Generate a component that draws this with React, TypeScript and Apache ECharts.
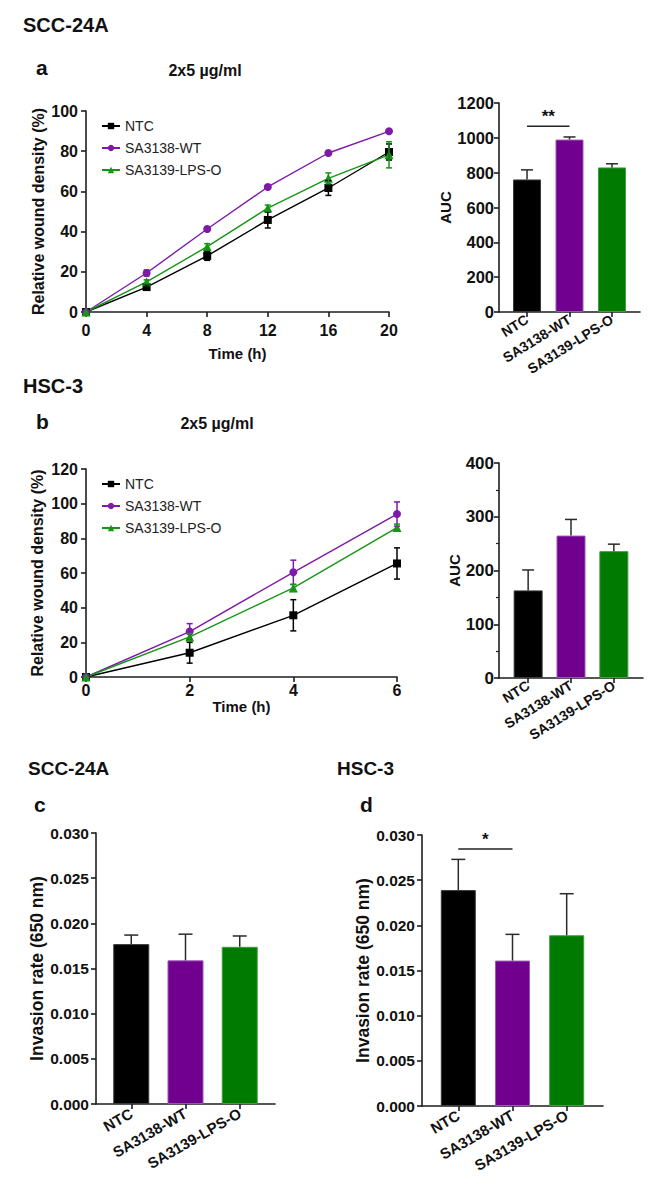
import React, { useEffect, useRef } from 'react';
import * as echarts from 'echarts';

// ---------- data ----------
const groups = ['NTC', 'SA3138-WT', 'SA3139-LPS-O'];
const barColors = ['#000000', '#72008f', '#007a00'];
const barBorders = ['#3a3a3a', '#9a55b8', '#3f9c3f'];
const lineColors = ['#000000', '#7d1aa8', '#159615'];
const symbols = ['rect', 'circle', 'triangle'];

// panel a (SCC-24A)
const timeA = [0, 4, 8, 12, 16, 20];
const ntcA = [0, 12.4, 27.9, 45.8, 61.7, 79.6];
const ntcAErr = [0, 1.2, 2.2, 4, 3.7, 4];
const wtA = [0, 19.4, 41.3, 62.2, 79.1, 89.9];
const wtAErr = [0, 1.5, 1, 0.8, 0.8, 0.8];
const lpsA = [0, 15, 32.5, 51.7, 66.5, 78.2];
const lpsAErr = [0, 1, 1.5, 1.5, 2.7, 6.5];
const aucA = [761, 990, 830];
const aucAErr = [55, 15, 21];
const sigA = [[0, 1, 1067]];
const sigALabel = ['**'];

// panel b (HSC-3)
const timeB = [0, 2, 4, 6];
const ntcB = [0, 14, 35.6, 65.5];
const ntcBErr = [0, 6, 9, 9];
const wtB = [0, 26.2, 60.4, 94];
const wtBErr = [0, 4.6, 7, 7];
const lpsB = [0, 23.1, 51.4, 86.2];
const lpsBErr = [0, 2, 2, 2];
const aucB = [163, 265, 236];
const aucBErr = [38, 30, 13];

// panels c, d (invasion)
const invC = [0.0177, 0.0159, 0.0174];
const invCErr = [0.001, 0.0029, 0.0012];
const invD = [0.0239, 0.0161, 0.0189];
const invDErr = [0.0034, 0.0029, 0.0046];
const sigD = [[0, 1, 0.02845]];
const sigDLabel = ['*'];

const catIdx = [0, 1, 2];

// ---------- styling helpers ----------
const FONT = 'Liberation Sans, Arial, sans-serif';
const AX = '#1e1e1e';
const TXT = '#111111';

const axisLine = { show: true, onZero: false, lineStyle: { color: AX, width: 1.6 } };

function errRender(cap: number, color: string, upperOnly: boolean) {
  return (params: any, api: any) => {
    const x = api.value(0);
    const y = api.value(1);
    const e = api.value(2);
    if (!e) return { type: 'group', children: [] };
    const top = api.coord([x, y + e]);
    const bot = upperOnly ? api.coord([x, y]) : api.coord([x, y - e]);
    const st = { stroke: color, lineWidth: 1.5 };
    const children: any[] = [
      { type: 'line', shape: { x1: top[0], y1: top[1], x2: bot[0], y2: bot[1] }, style: st },
      { type: 'line', shape: { x1: top[0] - cap / 2, y1: top[1], x2: top[0] + cap / 2, y2: top[1] }, style: st },
    ];
    if (!upperOnly) {
      children.push({ type: 'line', shape: { x1: bot[0] - cap / 2, y1: bot[1], x2: bot[0] + cap / 2, y2: bot[1] }, style: st });
    }
    return { type: 'group', children };
  };
}

function sigRender(labels: string[], fontSize: number) {
  return (params: any, api: any) => {
    const p1 = api.coord([api.value(0), api.value(2)]);
    const p2 = api.coord([api.value(1), api.value(2)]);
    return {
      type: 'group',
      children: [
        { type: 'line', shape: { x1: p1[0], y1: p1[1], x2: p2[0], y2: p2[1] }, style: { stroke: '#222', lineWidth: 1.5 } },
        {
          type: 'text',
          x: (p1[0] + p2[0]) / 2,
          y: p1[1] - 1,
          style: { text: labels[params.dataIndex], font: `bold ${fontSize}px ${FONT}`, fill: '#111', align: 'center', verticalAlign: 'bottom' },
        },
      ],
    };
  };
}

function lineSeries(idx: number, times: number[], vals: number[], errs: number[], name: string) {
  const color = lineColors[idx];
  return [
    {
      type: 'line',
      name,
      data: times.map((t, k) => [t, vals[k]]),
      symbol: symbols[idx],
      symbolSize: idx === 2 ? 9 : 8,
      lineStyle: { color, width: 1.4 },
      itemStyle: { color },
      z: 4,
    },
    {
      type: 'custom',
      renderItem: errRender(6, color, false),
      data: times.map((t, k) => [t, vals[k], errs[k]]),
      z: 5,
      silent: true,
    },
  ];
}

function withAxes(list: any[], xi: number, yi: number) {
  return list.map((s) => ({ ...s, xAxisIndex: xi, yAxisIndex: yi }));
}

function barSeries(vals: number[], errs: number[], width: number, cap: number) {
  return [
    {
      type: 'bar',
      name: 'bars',
      barWidth: width,
      data: vals.map((v, i) => ({
        value: [catIdx[i], v],
        itemStyle: { color: barColors[i], borderColor: barBorders[i], borderWidth: 1 },
      })),
      z: 2,
    },
    {
      type: 'custom',
      renderItem: errRender(cap, '#2a2a2a', true),
      data: vals.map((v, i) => [catIdx[i], v, errs[i]]),
      z: 3,
      silent: true,
    },
  ];
}

function catXAxis(grid: number, min: number, max: number, fontSize: number, rotate: number, margin: number) {
  return {
    gridIndex: grid,
    type: 'value',
    min,
    max,
    axisLine,
    axisTick: { show: true, customValues: catIdx, length: 5, lineStyle: { color: AX, width: 1.6 } },
    axisLabel: {
      customValues: catIdx,
      formatter: (v: number) => groups[Math.round(v)],
      rotate,
      fontSize,
      fontWeight: 'bold',
      fontFamily: FONT,
      color: TXT,
      margin,
    },
    splitLine: { show: false },
  };
}

function valYAxis(grid: number, min: number, max: number, interval: number, fontSize: number, margin: number, extra: any = {}) {
  return {
    gridIndex: grid,
    type: 'value',
    min,
    max,
    interval,
    axisLine,
    axisTick: { show: true, length: 5, lineStyle: { color: AX, width: 1.6 } },
    axisLabel: { fontSize, fontWeight: 'bold', fontFamily: FONT, color: TXT, margin, formatter: (v: number) => String(v) },
    splitLine: { show: false },
    ...extra,
  };
}

const titles = [
  { text: 'SCC-24A', x: 23, y: 25, size: 20, align: 'left' },
  { text: 'a', x: 36, y: 67, size: 21, align: 'left' },
  { text: '2x5 µg/ml', x: 205, y: 70, size: 16, align: 'center' },
  { text: 'HSC-3', x: 23, y: 386, size: 20, align: 'left' },
  { text: 'b', x: 36, y: 421, size: 21, align: 'left' },
  { text: '2x5 µg/ml', x: 217, y: 423, size: 16, align: 'center' },
  { text: 'SCC-24A', x: 28, y: 768, size: 19, align: 'left' },
  { text: 'HSC-3', x: 337, y: 768, size: 19, align: 'left' },
  { text: 'c', x: 34, y: 804, size: 21, align: 'left' },
  { text: 'd', x: 360, y: 804, size: 21, align: 'left' },
];

function buildOption() {
  const legendBase = {
    data: groups,
    orient: 'vertical',
    left: 96,
    itemGap: 8,
    itemWidth: 18,
    itemHeight: 8,
    selectedMode: false,
    textStyle: { fontSize: 14, color: '#222', fontFamily: FONT },
  };

  const series: any[] = [
    ...withAxes(lineSeries(0, timeA, ntcA, ntcAErr, groups[0]), 0, 0),
    ...withAxes(lineSeries(1, timeA, wtA, wtAErr, groups[1]), 0, 0),
    ...withAxes(lineSeries(2, timeA, lpsA, lpsAErr, groups[2]), 0, 0),
    ...withAxes(barSeries(aucA, aucAErr, 28, 12), 1, 1),
    { type: 'custom', xAxisIndex: 1, yAxisIndex: 1, renderItem: sigRender(sigALabel, 17), data: sigA, z: 6, silent: true },
    ...withAxes(lineSeries(0, timeB, ntcB, ntcBErr, groups[0]), 2, 2),
    ...withAxes(lineSeries(1, timeB, wtB, wtBErr, groups[1]), 2, 2),
    ...withAxes(lineSeries(2, timeB, lpsB, lpsBErr, groups[2]), 2, 2),
    ...withAxes(barSeries(aucB, aucBErr, 29, 12), 3, 3),
    ...withAxes(barSeries(invC, invCErr, 36, 14), 4, 4),
    ...withAxes(barSeries(invD, invDErr, 35, 14), 5, 5),
    { type: 'custom', xAxisIndex: 5, yAxisIndex: 5, renderItem: sigRender(sigDLabel, 17), data: sigD, z: 6, silent: true },
  ];

  return {
    animation: false,
    backgroundColor: '#ffffff',
    textStyle: { fontFamily: FONT },
    grid: [
      { left: 86, top: 111, width: 303, height: 201 },
      { left: 499, top: 103, width: 141, height: 209 },
      { left: 86, top: 469, width: 311, height: 208 },
      { left: 499, top: 463, width: 144, height: 215 },
      { left: 96, top: 833, width: 179, height: 271 },
      { left: 422, top: 835, width: 181, height: 271 },
    ],
    xAxis: [
      {
        gridIndex: 0,
        type: 'value',
        min: 0,
        max: 20,
        interval: 4,
        axisLine,
        axisTick: { show: true, length: 5, lineStyle: { color: AX, width: 1.6 } },
        axisLabel: { fontSize: 16, fontWeight: 'bold', fontFamily: FONT, color: TXT, margin: 10 },
        splitLine: { show: false },
        name: 'Time (h)',
        nameLocation: 'middle',
        nameGap: 34,
        nameTextStyle: { fontSize: 15, fontWeight: 'bold', fontFamily: FONT, color: TXT },
      },
      catXAxis(1, -0.66, 2.66, 14, 32, 6),
      {
        gridIndex: 2,
        type: 'value',
        min: 0,
        max: 6,
        interval: 2,
        axisLine,
        axisTick: { show: true, length: 5, lineStyle: { color: AX, width: 1.6 } },
        axisLabel: { fontSize: 16, fontWeight: 'bold', fontFamily: FONT, color: TXT, margin: 5 },
        splitLine: { show: false },
        name: 'Time (h)',
        nameLocation: 'middle',
        nameGap: 20,
        nameTextStyle: { fontSize: 15, fontWeight: 'bold', fontFamily: FONT, color: TXT },
      },
      catXAxis(3, -0.68, 2.68, 14, 32, 6),
      catXAxis(4, -0.65, 2.65, 15, 30, 8),
      catXAxis(5, -0.67, 2.67, 15, 30, 8),
    ],
    yAxis: [
      valYAxis(0, 0, 100, 20, 16, 8, {
        name: 'Relative wound density (%)',
        nameLocation: 'middle',
        nameGap: 40,
        nameRotate: 90,
        nameTextStyle: { fontSize: 16, fontWeight: 'bold', fontFamily: FONT, color: TXT },
      }),
      valYAxis(1, 0, 1200, 200, 16.5, 5, {
        name: 'AUC',
        nameLocation: 'middle',
        nameGap: 42,
        nameRotate: 90,
        nameTextStyle: { fontSize: 15, fontWeight: 'bold', fontFamily: FONT, color: TXT },
      }),
      valYAxis(2, 0, 120, 20, 16, 8, {
        name: 'Relative wound density (%)',
        nameLocation: 'middle',
        nameGap: 41,
        nameRotate: 90,
        nameTextStyle: { fontSize: 16, fontWeight: 'bold', fontFamily: FONT, color: TXT },
      }),
      valYAxis(3, 0, 400, 100, 17, 5, {
        minorTick: { show: true, splitNumber: 2, length: 3, lineStyle: { color: AX, width: 1.2 } },
        name: 'AUC',
        nameLocation: 'middle',
        nameGap: 34,
        nameRotate: 90,
        nameTextStyle: { fontSize: 15, fontWeight: 'bold', fontFamily: FONT, color: TXT },
      }),
      valYAxis(4, 0, 0.03, 0.005, 15.5, 7, {
        axisLabel: { fontSize: 15.5, fontWeight: 'bold', fontFamily: FONT, color: TXT, margin: 7, formatter: (v: number) => v.toFixed(3) },
        name: 'Invasion rate (650 nm)',
        nameLocation: 'middle',
        nameGap: 48,
        nameRotate: 90,
        nameTextStyle: { fontSize: 17.5, fontWeight: 'bold', fontFamily: FONT, color: TXT },
      }),
      valYAxis(5, 0, 0.03, 0.005, 15.5, 7, {
        axisLabel: { fontSize: 15.5, fontWeight: 'bold', fontFamily: FONT, color: TXT, margin: 7, formatter: (v: number) => v.toFixed(3) },
        name: 'Invasion rate (650 nm)',
        nameLocation: 'middle',
        nameGap: 45,
        nameRotate: 90,
        nameTextStyle: { fontSize: 17.5, fontWeight: 'bold', fontFamily: FONT, color: TXT },
      }),
    ],
    legend: [
      { ...legendBase, top: 114 },
      { ...legendBase, top: 472 },
    ],
    graphic: titles.map((t) => ({
      type: 'text',
      x: t.x,
      y: t.y,
      style: { text: t.text, font: `bold ${t.size}px ${FONT}`, fill: TXT, align: t.align, verticalAlign: 'middle' },
    })),
    series,
  };
}

export default function App() {
  const ref = useRef<HTMLDivElement>(null);
  useEffect(() => {
    document.body.style.margin = '0';
    if (!ref.current) return;
    const chart = echarts.init(ref.current, undefined, { renderer: 'svg' });
    chart.setOption(buildOption() as any);
    return () => chart.dispose();
  }, []);
  return (
    <div
      ref={ref}
      style={{ position: 'absolute', left: 0, top: 0, width: 661, height: 1189, background: '#fff' }}
    />
  );
}
